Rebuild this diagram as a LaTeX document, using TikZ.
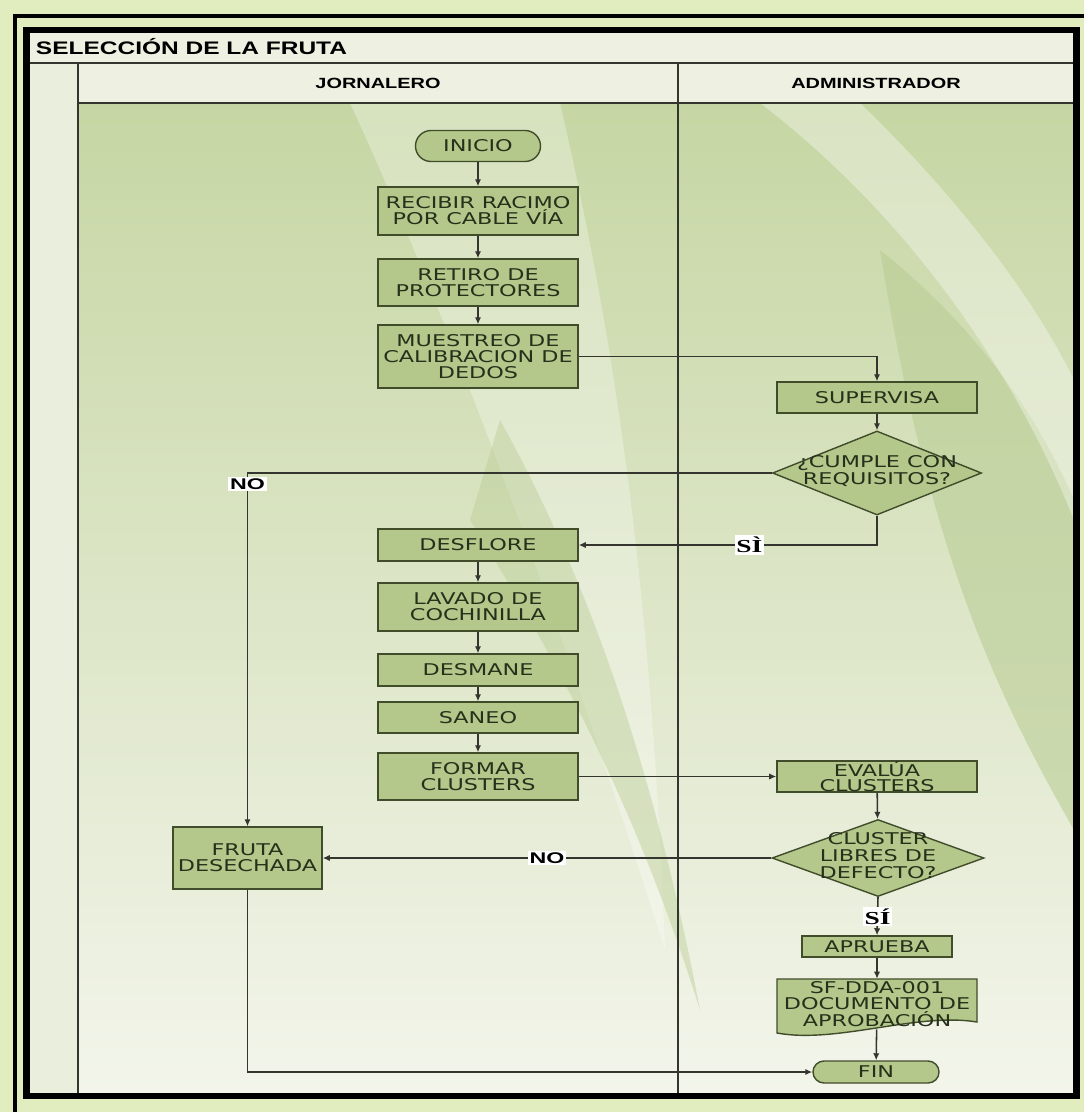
\documentclass[tikz,border=0pt]{standalone}
\usepackage{fontspec}
\usetikzlibrary{shapes,arrows.meta,positioning,calc}

\newfontfamily\flowfont[FakeStretch=1.38]{DejaVu Sans}
\newfontfamily\lanefont[FakeStretch=1.35]{Liberation Sans}
\newfontfamily\tagfont[FakeStretch=1.5]{Liberation Sans}
\newfontfamily\sifont[FakeStretch=1.5]{Liberation Serif}

\definecolor{glow}{HTML}{E2EDBF}
\definecolor{paper}{HTML}{EEF1E2}
\definecolor{sidecol}{HTML}{EAEEDD}
\definecolor{lanetop}{HTML}{C6D6A3}
\definecolor{lanemid}{HTML}{DCE5C6}
\definecolor{lanebot}{HTML}{F3F5EB}
\definecolor{leafdark}{HTML}{BACD95}
\definecolor{boxfill}{HTML}{B4C88B}
\definecolor{boxline}{HTML}{414C2B}
\definecolor{boxtext}{HTML}{26301A}
\definecolor{wire}{HTML}{35352F}

% text of a diamond, kept from growing the shape
\newcommand{\dtext}[1]{\makebox[0pt]{\smash{\raisebox{-0.25em}{\begin{tabular}{@{}c@{}}#1\end{tabular}}}}}

\begin{document}
\begin{tikzpicture}[
    x=0.025cm, y=-0.025cm,
    flowtext/.style={text=boxtext, font=\flowfont\fontsize{11.5}{11.5}\selectfont},
    proc/.style={rectangle, draw=boxline, fill=boxfill, line width=1pt, minimum width=5cm, inner sep=0pt, align=center, flowtext},
    term/.style={rounded rectangle, draw=boxline, fill=boxfill, line width=1pt, inner sep=0pt, flowtext},
    decision/.style={diamond, draw=boxline, fill=boxfill, line width=1pt, inner sep=0pt, flowtext},
    flow/.style={draw=wire, line width=1.1pt, -{Latex[length=5pt,width=4.5pt]}},
    notag/.style={fill=white, inner sep=1.2pt, text=black, font=\tagfont\bfseries\fontsize{11}{12}\selectfont},
    sitag/.style={fill=white, inner sep=1.2pt, text=black, font=\sifont\bfseries\fontsize{13}{14}\selectfont},
    lanehead/.style={text=black, font=\lanefont\bfseries\fontsize{10.5}{12}\selectfont},
    grid/.style={draw=wire, line width=0.8pt}
]
\useasboundingbox (0,0) rectangle (1084,1112);

% --- frame and swim lanes ---
\fill[glow] (0,0) rectangle (1084,1112);
\draw[line width=3pt] (15,16) rectangle (1110,1130);
\fill[paper] (26,30) rectangle (1077,1097);
\shade[top color=lanetop, middle color=lanemid, bottom color=lanebot] (78,103) rectangle (1074,1094);
\fill[sidecol] (29,63) rectangle (78,1094);

% background leaves
\fill[white, opacity=0.3] (350,103) -- (560,103) .. controls (610,320) and (650,560) .. (665,950)
    .. controls (560,620) and (450,320) .. cycle;
\fill[leafdark, opacity=0.45] (500,420) .. controls (600,600) and (660,800) .. (700,1010)
    .. controls (640,820) and (570,680) .. (470,520) -- cycle;
\fill[leafdark, opacity=0.6] (880,250) .. controls (980,330) and (1040,420) .. (1074,500)
    -- (1074,830) .. controls (1000,700) and (930,560) .. cycle;
\fill[white, opacity=0.35] (760,103) -- (860,103) .. controls (950,190) and (1030,290) .. (1074,380)
    -- (1074,520) .. controls (1010,360) and (900,210) .. cycle;

\draw[grid] (29,63) -- (1074,63);
\draw[grid] (78,103) -- (1074,103);
\draw[grid] (78,63) -- (78,1094);
\draw[grid] (678,63) -- (678,1094);
\draw[line width=4.5pt] (26.5,30) rectangle (1076.5,1096);

\node[anchor=west, text=black, font=\lanefont\bfseries\fontsize{12.9}{15}\selectfont] (title) at (31,47) {SELECCIÓN DE LA FRUTA};
\node[lanehead] (jor) at (378,83) {JORNALERO};
\node[lanehead] (adm) at (876,83) {ADMINISTRADOR};

% --- JORNALERO ---
\node[term, minimum width=3.125cm, minimum height=0.775cm] (ini) at (478,146) {INICIO};
\node[proc, minimum height=1.2cm] (rec) at (478,211) {RECIBIR RACIMO\\POR CABLE VÍA};
\node[proc, minimum height=1.175cm] (ret) at (478,282.5) {RETIRO DE\\PROTECTORES};
\node[proc, minimum height=1.575cm] (mue) at (478,356.5) {MUESTREO DE\\CALIBRACION DE\\DEDOS};
\node[proc, minimum height=0.8cm] (des) at (478,545) {DESFLORE};
\node[proc, minimum height=1.2cm] (lav) at (478,607) {LAVADO DE\\COCHINILLA};
\node[proc, minimum height=0.8cm] (dsm) at (478,670) {DESMANE};
\node[proc, minimum height=0.775cm] (san) at (478,717.5) {SANEO};
\node[proc, minimum height=1.175cm] (frm) at (478,776.5) {FORMAR\\CLUSTERS};
\node[proc, minimum width=3.725cm, minimum height=1.55cm] (fru) at (247.5,858) {FRUTA\\DESECHADA};

% --- ADMINISTRADOR ---
\node[proc, minimum height=0.775cm] (sup) at (877,397.5) {SUPERVISA};
\node[decision, minimum width=5.225cm, minimum height=2.1cm] (cum) at (877,473) {\dtext{¿CUMPLE CON\\REQUISITOS?}};
\node[proc, minimum height=0.775cm, font=\flowfont\fontsize{11.5}{10.5}\selectfont] (eva) at (877,776.5) {EVALÚA\\CLUSTERS};
\node[decision, minimum width=5.3cm, minimum height=1.925cm] (clu) at (878,858) {\dtext{CLUSTER\\LIBRES DE\\DEFECTO?}};
\node[proc, minimum width=3.75cm, minimum height=0.525cm] (apr) at (877,946.5) {APRUEBA};

% document shape
\coordinate (docc) at (877,1004);
\filldraw[draw=boxline, fill=boxfill, line width=1pt] ($(docc)+(-100,-25)$) -- ($(docc)+(100,-25)$) -- ($(docc)+(100,18)$)
    .. controls ($(docc)+(40,8)$) and ($(docc)+(-40,40)$) .. ($(docc)+(-100,29)$) -- cycle;
\node[rectangle, inner sep=0pt, minimum width=5cm, minimum height=1.25cm, align=center, flowtext] (doc) at (docc) {SF-DDA-001\\DOCUMENTO DE\\APROBACIÓN};
\node[term, minimum width=3.15cm, minimum height=0.55cm] (fin) at (876,1072) {FIN};

% --- connectors ---
\draw[flow] (ini) -- (rec);
\draw[flow] (rec) -- (ret);
\draw[flow] (ret) -- (mue);
\draw[flow] (mue.east) -| (sup.north);
\draw[flow] (sup) -- (cum);
\draw[flow] (cum.west) -| (fru.north) node[pos=0.516, notag] {NO};
\draw[flow] (cum.south) |- (des.east) node[pos=0.714, sitag] {SÌ};
\draw[flow] (des) -- (lav);
\draw[flow] (lav) -- (dsm);
\draw[flow] (dsm) -- (san);
\draw[flow] (san) -- (frm);
\draw[flow] (frm.east) -- (frm.east -| eva.west);
\draw[flow] (eva) -- (clu);
\draw[flow] (clu.west) -- (fru.east) node[midway, notag] {NO};
\draw[flow] (clu.south) -- (apr.north) node[midway, sitag] {SÍ};
\draw[flow] (apr) -- (doc);
\draw[flow] (doc) -- (fin);
\draw[flow] (fru.south) |- (fin.west);

\end{tikzpicture}
\end{document}
